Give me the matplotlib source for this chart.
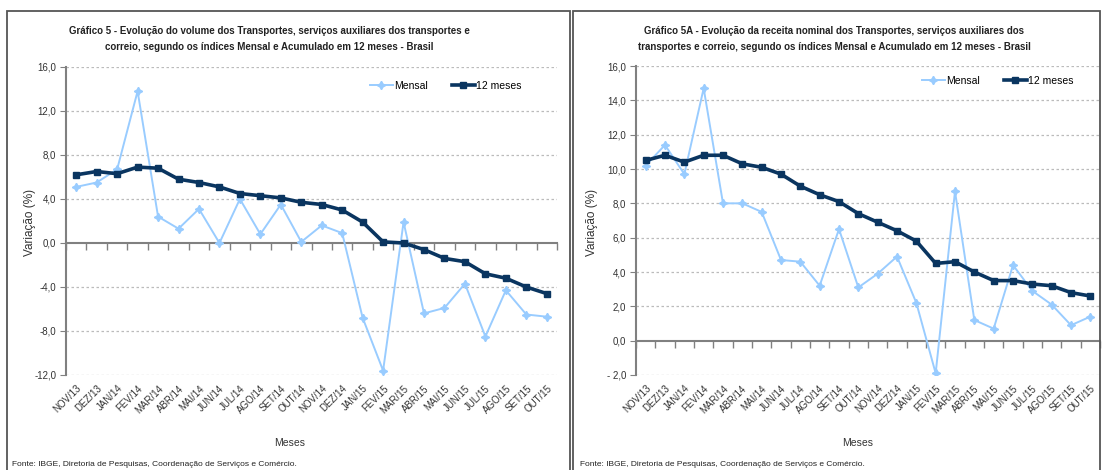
import numpy as np
import matplotlib
matplotlib.use("Agg")
import matplotlib.pyplot as plt
from matplotlib.patches import Rectangle

plt.rcParams['font.family'] = ['Liberation Sans', 'DejaVu Sans']

''' data '''
meses = ['NOV/13', 'DEZ/13', 'JAN/14', 'FEV/14', 'MAR/14', 'ABR/14', 'MAI/14', 'JUN/14',
         'JUL/14', 'AGO/14', 'SET/14', 'OUT/14', 'NOV/14', 'DEZ/14', 'JAN/15', 'FEV/15',
         'MAR/15', 'ABR/15', 'MAI/15', 'JUN/15', 'JUL/15', 'AGO/15', 'SET/15', 'OUT/15']

vol_mensal = [5.1, 5.5, 6.7, 13.8, 2.4, 1.3, 3.1, 0.0, 4.0, 0.8, 3.5, 0.1,
              1.6, 0.9, -6.8, -11.6, 1.9, -6.4, -5.9, -3.7, -8.5, -4.3, -6.5, -6.7]
vol_12m = [6.2, 6.5, 6.3, 6.9, 6.8, 5.8, 5.5, 5.1, 4.5, 4.3, 4.1, 3.7,
           3.5, 3.0, 1.9, 0.1, 0.0, -0.6, -1.4, -1.7, -2.8, -3.2, -4.0, -4.6]

rec_mensal = [10.2, 11.4, 9.7, 14.7, 8.0, 8.0, 7.5, 4.7, 4.6, 3.2, 6.5, 3.1,
              3.9, 4.9, 2.2, -1.9, 8.7, 1.2, 0.7, 4.4, 2.9, 2.1, 0.9, 1.4]
rec_12m = [10.5, 10.8, 10.4, 10.8, 10.8, 10.3, 10.1, 9.7, 9.0, 8.5, 8.1, 7.4,
           6.9, 6.4, 5.8, 4.5, 4.6, 4.0, 3.5, 3.5, 3.3, 3.2, 2.8, 2.6]

vol_yticks = [-12, -8, -4, 0, 4, 8, 12, 16]
vol_ylabels = ['-12,0', '-8,0', '-4,0', '0,0', '4,0', '8,0', '12,0', '16,0']
rec_yticks = [-2, 0, 2, 4, 6, 8, 10, 12, 14, 16]
rec_ylabels = ['- 2,0', '0,0', '2,0', '4,0', '6,0', '8,0', '10,0', '12,0', '14,0', '16,0']

titulo5 = ('Gráfico 5 - Evolução do volume dos Transportes, serviços auxiliares dos transportes e\n'
           'correio, segundo os índices Mensal e Acumulado em 12 meses - Brasil')
titulo5a = ('Gráfico 5A - Evolução da receita nominal dos Transportes, serviços auxiliares dos\n'
            'transportes e correio, segundo os índices Mensal e Acumulado em 12 meses - Brasil')
fonte = 'Fonte: IBGE, Diretoria de Pesquisas, Coordenação de Serviços e Comércio.'

LIGHT = '#99CCFF'
NAVY = '#0A3560'
GRAY = '#808080'

W, H = 1102, 470
fig = plt.figure(figsize=(W / 100, H / 100), dpi=100)


def fx(px):
    return px / W


def fy(py):
    return 1 - py / H


def draw(ax, mensal, m12, yticks, ylabels):
    x = np.arange(len(meses))
    ax.plot(x, mensal, color=LIGHT, lw=1.4, marker=(4, 1, 0), ms=6, label='Mensal', zorder=3)
    ax.plot(x, m12, color=NAVY, lw=2.6, marker='s', ms=4.5, label='12 meses', zorder=4)
    ax.set_xlim(-0.5, len(meses) - 0.5)
    ax.set_ylim(yticks[0], yticks[-1])
    ax.set_yticks(yticks)
    ax.set_yticklabels(ylabels, fontsize=7, color='#333333')
    ax.tick_params(axis='y', length=4, color=GRAY, pad=3)
    for v in yticks:
        if v != 0:
            ax.axhline(v, color='#BBBBBB', lw=0.9, ls=(0, (2, 2)), zorder=1)
    # category labels at the bottom
    ax.set_xticks(x)
    ax.set_xticklabels(meses, rotation=45, ha='right', rotation_mode='anchor', fontsize=7,
                       color='#333333')
    ax.tick_params(axis='x', length=0, pad=6)
    for s in ['top', 'right', 'bottom']:
        ax.spines[s].set_visible(False)
    ax.spines['left'].set_color(GRAY)
    ax.spines['left'].set_linewidth(1.5)
    # axis line at zero with boundary ticks
    sec = ax.secondary_xaxis(0, transform=ax.transData)
    sec.set_xticks(np.arange(len(meses) + 1) - 0.5)
    sec.set_xticklabels([])
    sec.tick_params(axis='x', length=5, direction='out', color=GRAY, width=1)
    sec.spines['bottom'].set_color(GRAY)
    sec.spines['bottom'].set_linewidth(1.5)


ax1 = fig.add_axes([fx(66), fy(375), fx(557 - 66), (375 - 67) / H])
draw(ax1, vol_mensal, vol_12m, vol_yticks, vol_ylabels)
ax2 = fig.add_axes([fx(636), fy(375), fx(1100 - 636), (375 - 66) / H])
draw(ax2, rec_mensal, rec_12m, rec_yticks, rec_ylabels)

# legends
for ax, lx, ly in [(ax1, 370, 86), (ax2, 922, 81)]:
    ax.legend(loc='center left', bbox_to_anchor=(fx(lx), fy(ly)), bbox_transform=fig.transFigure,
              ncol=2, frameon=False, fontsize=7.5, handlelength=2.2, handletextpad=0.1,
              columnspacing=2.3, borderpad=0, borderaxespad=0)

# titles and labels
fig.text(fx(269), fy(39), titulo5, ha='center', va='center', fontsize=7, fontweight='bold',
         linespacing=1.75, color='#222222')
fig.text(fx(834), fy(39), titulo5a, ha='center', va='center', fontsize=7, fontweight='bold',
         linespacing=1.75, color='#222222')
for xx in [30, 592]:
    fig.text(fx(xx), fy(222), 'Variação (%)', rotation=90, ha='center', va='center',
             fontsize=8.5, color='#333333')
fig.text(fx(290), fy(443), 'Meses', ha='center', va='center', fontsize=7.5, color='#333333')
fig.text(fx(858), fy(443), 'Meses', ha='center', va='center', fontsize=7.5, color='#333333')
fig.text(fx(12), fy(464), fonte, ha='left', va='center', fontsize=6, color='#222222')
fig.text(fx(580), fy(464), fonte, ha='left', va='center', fontsize=6, color='#222222')

# panel borders
fig.add_artist(Rectangle((fx(7), fy(480)), fx(570 - 7), (480 - 11) / H, transform=fig.transFigure,
                         fill=False, ec='#555555', lw=1.3))
fig.add_artist(Rectangle((fx(573), fy(480)), fx(1100 - 573), (480 - 11) / H, transform=fig.transFigure,
                         fill=False, ec='#555555', lw=1.3))

fig.savefig('out.png', dpi=100)
